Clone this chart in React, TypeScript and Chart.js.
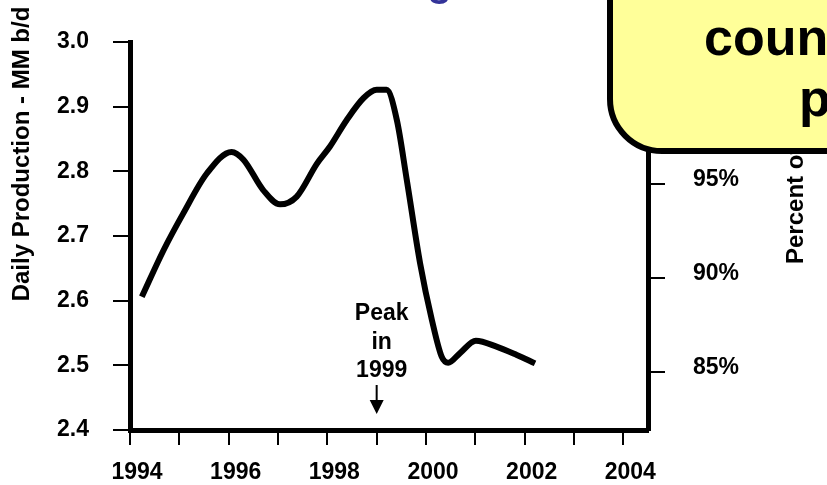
import React, { useEffect, useRef } from 'react';
import { Chart, registerables } from 'chart.js';

Chart.register(...registerables);

// ---- data ----
const years = [
  1994.24, 1994.68, 1995.08, 1995.56, 1996.06, 1996.3, 1996.7, 1997.04, 1997.38,
  1997.79, 1998.05, 1998.39, 1998.73, 1999.0, 1999.2, 1999.41, 1999.61, 1999.88,
  2000.12, 2000.32, 2000.45, 2000.69, 2001.01, 2001.43, 2001.84, 2002.21,
];
const production = [
  2.606, 2.678, 2.735, 2.797, 2.83, 2.818, 2.771, 2.749, 2.761,
  2.812, 2.838, 2.879, 2.913, 2.926, 2.926, 2.879, 2.787, 2.658,
  2.57, 2.513, 2.504, 2.519, 2.538, 2.529, 2.516, 2.503,
];
const yearTicks = [1994, 1995, 1996, 1997, 1998, 1999, 2000, 2001, 2002, 2003, 2004];
const yearLabels = ['1994', '1996', '1998', '2000', '2002', '2004'];
const productionTicks = [2.4, 2.5, 2.6, 2.7, 2.8, 2.9, 3.0];
const percentTicks = [85, 90, 95, 100];
const leftTitle = 'Daily Production - MM b/d';
const rightTitle = 'Percent of 1999 Peak';
const peakYear = 1999;
const peakNote = ['Peak', 'in', '1999'];
const calloutLines = ['country', 'peaked'];
const titleText = 'UK Oil Production Declining';

const FONT = '"Liberation Sans", Arial, sans-serif';

const overlayPlugin = {
  id: 'overlay',
  afterDraw(chart: any) {
    const { ctx, chartArea } = chart;
    const xs = chart.scales.x;
    ctx.save();
    ctx.fillStyle = '#000';
    ctx.strokeStyle = '#000';

    // left axis title
    ctx.save();
    ctx.font = `bold 24px ${FONT}`;
    ctx.textAlign = 'center';
    ctx.textBaseline = 'alphabetic';
    ctx.translate(29, chartArea.top + 112);
    ctx.rotate(-Math.PI / 2);
    ctx.fillText(leftTitle, 0, 0);
    ctx.restore();

    // right axis title
    ctx.save();
    ctx.font = `bold 24px ${FONT}`;
    ctx.textAlign = 'left';
    ctx.textBaseline = 'alphabetic';
    ctx.translate(803, 264);
    ctx.rotate(-Math.PI / 2);
    ctx.fillText(rightTitle, 0, 0);
    ctx.restore();

    // peak annotation
    const px = xs.getPixelForValue(peakYear);
    ctx.font = `bold 23px ${FONT}`;
    ctx.textAlign = 'center';
    ctx.textBaseline = 'alphabetic';
    const b0 = chartArea.bottom - 110;
    peakNote.forEach((t, i) => ctx.fillText(t, px + 5, b0 + i * 28.5));
    // arrow
    ctx.lineWidth = 2;
    ctx.beginPath();
    ctx.moveTo(px, chartArea.bottom - 45);
    ctx.lineTo(px, chartArea.bottom - 29);
    ctx.stroke();
    ctx.beginPath();
    ctx.moveTo(px - 7, chartArea.bottom - 30);
    ctx.lineTo(px + 7, chartArea.bottom - 30);
    ctx.lineTo(px, chartArea.bottom - 16);
    ctx.closePath();
    ctx.fill();
    ctx.restore();
  },
};

export default function App() {
  const ref = useRef<HTMLCanvasElement>(null);

  useEffect(() => {
    const canvas = ref.current!;
    const tickFont = { family: FONT, weight: 'bold' as const, size: 23 };
    const chart = new Chart(canvas, {
      type: 'line',
      data: {
        datasets: [
          {
            data: years.map((x, i) => ({ x, y: production[i] })),
            borderColor: '#000',
            borderWidth: 6,
            pointRadius: 0,
            fill: false,
            cubicInterpolationMode: 'monotone',
            yAxisID: 'y',
          },
        ],
      },
      options: {
        responsive: false,
        animation: false,
        devicePixelRatio: 1,
        layout: { padding: { top: 42, left: 0, right: 0, bottom: 0 } },
        plugins: { legend: { display: false }, tooltip: { enabled: false }, title: { display: false } },
        scales: {
          x: {
            type: 'linear',
            min: 1994,
            max: 2004.5,
            afterBuildTicks: (s: any) => {
              s.ticks = yearTicks.map((v) => ({ value: v }));
            },
            afterFit: (s: any) => {
              s.height = 55;
            },
            ticks: {
              autoSkip: false,
              maxRotation: 0,
              minRotation: 0,
              color: '#000',
              font: tickFont,
              padding: 14,
              labelOffset: 7,
              callback: (v: any) => (yearLabels.includes(String(v)) ? String(v) : ''),
            },
            grid: { drawOnChartArea: false, drawTicks: true, tickLength: 15, color: '#000', lineWidth: 2 },
            border: { display: true, width: 5, color: '#000' },
          },
          y: {
            position: 'left',
            min: 2.4,
            max: 3.0,
            afterBuildTicks: (s: any) => {
              s.ticks = productionTicks.map((v) => ({ value: v }));
            },
            afterFit: (s: any) => {
              s.width = 130;
            },
            ticks: {
              color: '#000',
              font: tickFont,
              padding: 24,
              callback: (v: any) => Number(v).toFixed(1),
            },
            grid: { drawOnChartArea: false, drawTicks: true, tickLength: 17, color: '#000', lineWidth: 2 },
            border: { display: true, width: 5, color: '#000' },
          },
          y2: {
            position: 'right',
            min: 81.92,
            max: 102.51,
            afterBuildTicks: (s: any) => {
              s.ticks = percentTicks.map((v) => ({ value: v }));
            },
            afterFit: (s: any) => {
              s.width = 179;
            },
            ticks: {
              color: '#000',
              font: tickFont,
              padding: 28,
              labelOffset: -4,
              callback: (v: any) => `${v}%`,
            },
            grid: { drawOnChartArea: false, drawTicks: true, tickLength: 17, color: '#000', lineWidth: 2 },
            border: { display: true, width: 5, color: '#000' },
          },
        },
      },
      plugins: [overlayPlugin],
    } as any);
    return () => chart.destroy();
  }, []);

  return (
    <div
      style={{
        position: 'fixed',
        left: 0,
        top: 0,
        width: 827,
        height: 485,
        overflow: 'hidden',
        background: '#fff',
      }}
    >
      <canvas
        ref={ref}
        width={827}
        height={485}
        style={{ position: 'absolute', left: 0, top: 0, width: 827, height: 485 }}
      />
      <div
        style={{
          position: 'absolute',
          right: 375,
          top: -38,
          font: `bold 40px ${FONT}`,
          lineHeight: '40px',
          color: '#333399',
          whiteSpace: 'nowrap',
        }}
      >
        {titleText}
      </div>
      <div
        style={{
          position: 'absolute',
          left: 607,
          top: -120,
          width: 420,
          height: 274,
          boxSizing: 'border-box',
          background: '#FFFF99',
          border: '6px solid #000',
          borderRadius: 55,
        }}
      />
      {calloutLines.map((t, i) => (
        <div
          key={t}
          style={{
            position: 'absolute',
            left: i === 0 ? 704 : 799,
            top: i === 0 ? 11 : 72,
            font: `bold 52px ${FONT}`,
            lineHeight: '52px',
            color: '#000',
            whiteSpace: 'nowrap',
          }}
        >
          {t}
        </div>
      ))}
    </div>
  );
}
